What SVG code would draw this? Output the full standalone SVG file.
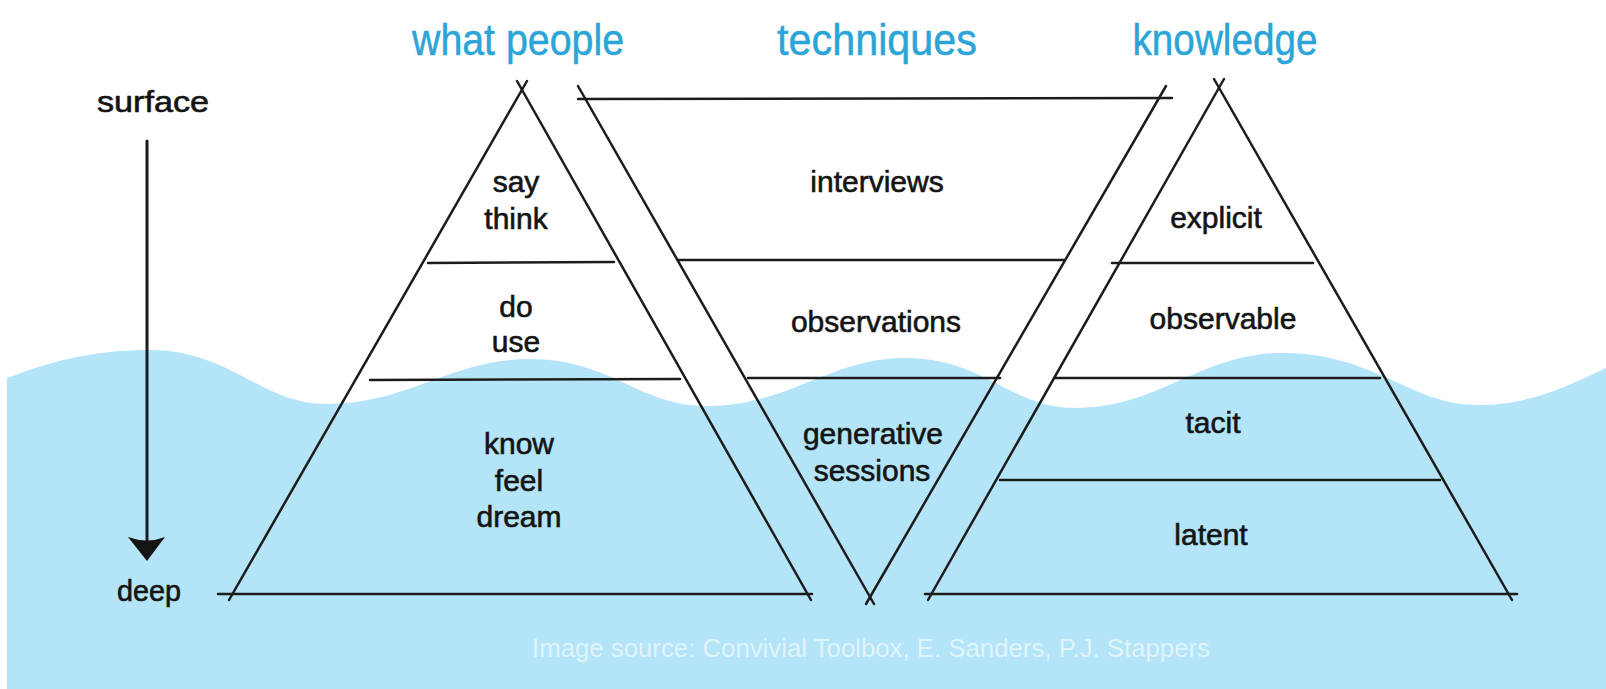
<svg xmlns="http://www.w3.org/2000/svg" width="1606" height="689" viewBox="0 0 1606 689">
<style>
.ln{stroke:#1c1c1c;stroke-width:2.5;stroke-linecap:round;fill:none}
.lbl{font-family:"Liberation Sans",Arial,sans-serif;font-size:30px;fill:#141414;stroke:#141414;stroke-width:0.6;text-anchor:middle}
.ttl{font-family:"Liberation Sans",Arial,sans-serif;font-size:44px;fill:#2ba4d7;stroke:#2ba4d7;stroke-width:0.5;text-anchor:middle}
.cap{font-family:"Liberation Sans",Arial,sans-serif;font-size:25px;fill:#ffffff;fill-opacity:0.6;text-anchor:middle}
</style>
<rect x="0" y="0" width="1606" height="689" fill="#ffffff"/>
<path id="water" d="M7,378 C60,358 100,350 150,350 C230,350 262,404 325,404 C410,404 450,359 530,359 C610,359 640,406 706,406 C790,406 830,358 905,358 C985,358 1010,408 1075,408 C1160,408 1200,353 1283,353 C1375,353 1410,405 1478,405 C1535,405 1575,382 1606,368 L1606,689 L7,689 Z" fill="#b3e4f7"/>

<g id="titles">
<text class="ttl" x="518" y="55" textLength="212" lengthAdjust="spacingAndGlyphs">what people</text>
<text class="ttl" x="877" y="55" textLength="200" lengthAdjust="spacingAndGlyphs">techniques</text>
<text class="ttl" x="1225" y="55" textLength="185" lengthAdjust="spacingAndGlyphs">knowledge</text>
</g>

<g id="depth-scale">
<text class="lbl" x="153" y="112" textLength="112" lengthAdjust="spacingAndGlyphs">surface</text>
<line class="ln" x1="147" y1="141" x2="147" y2="545" style="stroke-width:3"/>
<path d="M128,537 Q147,544 165,537 L147,561 Z" fill="#141414"/>
<text class="lbl" x="149" y="601" textLength="64" lengthAdjust="spacingAndGlyphs">deep</text>
</g>

<g id="connectors">
<!-- left pyramid -->
<line class="ln" x1="229" y1="600" x2="527" y2="81"/>
<line class="ln" x1="517" y1="81" x2="811" y2="600"/>
<line class="ln" x1="428" y1="263" x2="614" y2="262"/>
<line class="ln" x1="370" y1="380" x2="680" y2="379"/>
<line class="ln" x1="218" y1="594" x2="812" y2="594"/>
<!-- middle inverted pyramid -->
<line class="ln" x1="578" y1="99" x2="1172" y2="98"/>
<line class="ln" x1="578" y1="86" x2="874" y2="604"/>
<line class="ln" x1="1166" y1="86" x2="866" y2="604"/>
<line class="ln" x1="678" y1="260" x2="1064" y2="260"/>
<line class="ln" x1="748" y1="378" x2="1000" y2="378"/>
<!-- right pyramid -->
<line class="ln" x1="928" y1="600" x2="1224" y2="79"/>
<line class="ln" x1="1214" y1="79" x2="1512" y2="600"/>
<line class="ln" x1="1112" y1="263" x2="1313" y2="263"/>
<line class="ln" x1="1055" y1="378" x2="1380" y2="378"/>
<line class="ln" x1="1000" y1="480" x2="1440" y2="480"/>
<line class="ln" x1="925" y1="594" x2="1517" y2="594"/>
</g>

<g id="what-people">
<text class="lbl" x="516" y="192">say</text>
<text class="lbl" x="516" y="229">think</text>
<text class="lbl" x="516" y="317">do</text>
<text class="lbl" x="516" y="352">use</text>
<text class="lbl" x="519" y="454">know</text>
<text class="lbl" x="519" y="491">feel</text>
<text class="lbl" x="519" y="527">dream</text>
</g>

<g id="techniques">
<text class="lbl" x="877" y="192">interviews</text>
<text class="lbl" x="876" y="332">observations</text>
<text class="lbl" x="873" y="444">generative</text>
<text class="lbl" x="872" y="481">sessions</text>
</g>

<g id="knowledge">
<text class="lbl" x="1216" y="228">explicit</text>
<text class="lbl" x="1223" y="329">observable</text>
<text class="lbl" x="1213" y="433">tacit</text>
<text class="lbl" x="1211" y="545">latent</text>
</g>

<text class="cap" x="871" y="657" textLength="678" lengthAdjust="spacingAndGlyphs">Image source: Convivial Toolbox, E. Sanders, P.J. Stappers</text>
</svg>
